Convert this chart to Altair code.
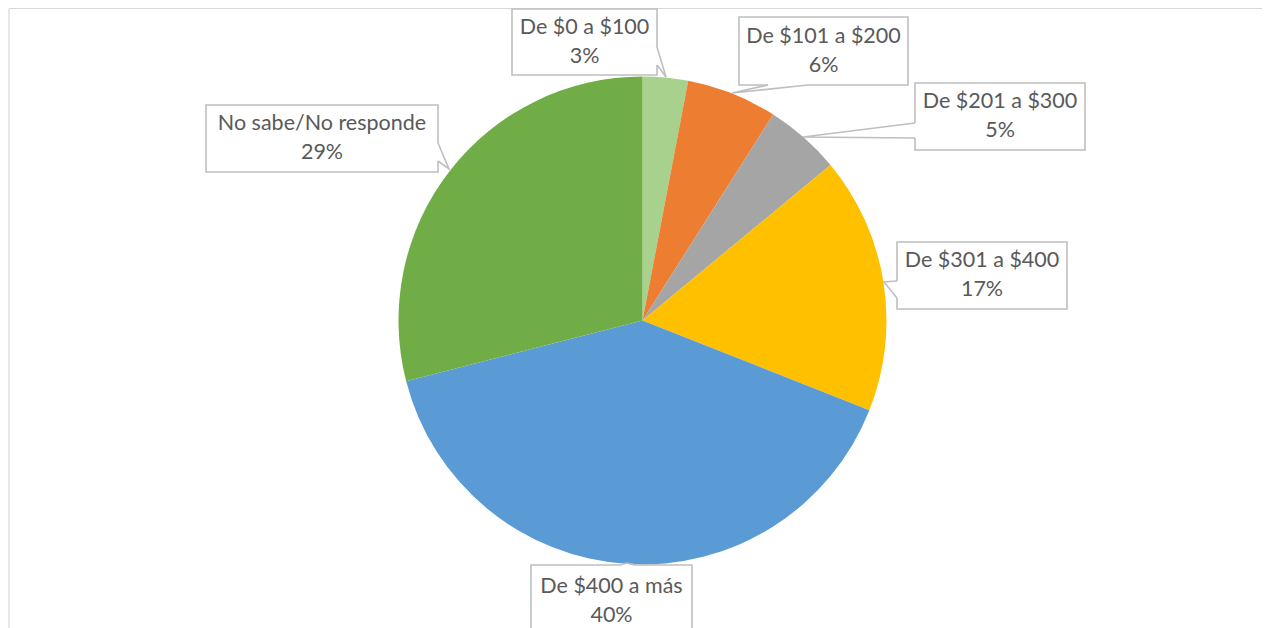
import altair as alt
import pandas as pd

# ---- data ----
categories = ["De $0 a $100", "De $101 a $200", "De $201 a $300",
              "De $301 a $400", "De $400 a más", "No sabe/No responde"]
values = [3, 6, 5, 17, 40, 29]
colors = ["#A9D18E", "#ED7D31", "#A5A5A5", "#FFC000", "#5B9BD5", "#70AD47"]

# ---- layout (page pixel coordinates) ----
W, H = 1254, 620
pie_cx, pie_cy, pie_r = 642.5, 320.5, 244
# label boxes: x1, x2, y1, y2
boxes = [
    (512, 657, 9, 75),
    (739, 908, 17, 85),
    (915, 1085, 83, 150),
    (897, 1067, 242, 309),
    (531, 692, 565, 638),
    (206, 438, 105, 172),
]
# callout pointers: attach A, tip, attach C
pointers = [
    ((657, 47), (666, 77), (657, 65)),
    ((768, 85), (732, 93), (808, 85)),
    ((915, 123), (803, 137), (915, 138)),
    ((897, 281), (884, 282), (897, 298)),
    ((620, 565), (627, 563), (634, 565)),
    ((438, 143), (449, 169), (438, 161)),
]
line_gap = 14.5
font = "Lato"
fsize = 21.5
text_color = "#595959"
box_stroke = "#BFBFBF"

xs = alt.Scale(domain=[8, 8 + W], range=[0, W], zero=False, nice=False)
ys = alt.Scale(domain=[8, 8 + H], range=[0, H], zero=False, nice=False)

pie_df = pd.DataFrame({"cat": categories, "value": values,
                       "idx": list(range(len(categories)))})

pie = alt.Chart(pie_df).mark_arc(outerRadius=pie_r, stroke=None).encode(
    theta=alt.Theta("value:Q", stack=True),
    order=alt.Order("idx:Q"),
    color=alt.Color("cat:N", scale=alt.Scale(domain=categories, range=colors), legend=None),
    x=alt.value(pie_cx - 8),
    y=alt.value(pie_cy - 8),
)

frame_df = pd.DataFrame({"x": [9, 9], "x2": [8 + W, 9], "y": [8.5, 8.5], "y2": [8.5, 8 + H]})
frame = alt.Chart(frame_df).mark_rule(color="#D9D9D9", strokeWidth=1.2).encode(
    x=alt.X("x:Q", scale=xs, axis=None), x2="x2:Q",
    y=alt.Y("y:Q", scale=ys, axis=None), y2="y2:Q",
)

box_df = pd.DataFrame({"cat": categories,
                       "x": [b[0] for b in boxes], "x2": [b[1] for b in boxes],
                       "y": [b[2] for b in boxes], "y2": [b[3] for b in boxes]})
box = alt.Chart(box_df).mark_rect(fill="white", stroke=box_stroke, strokeWidth=1.6).encode(
    x=alt.X("x:Q", scale=xs, axis=None), x2="x2:Q",
    y=alt.Y("y:Q", scale=ys, axis=None), y2="y2:Q",
)

gap_df = pd.DataFrame({"x": [p[0][0] for p in pointers], "y": [p[0][1] for p in pointers],
                       "x2": [p[2][0] for p in pointers], "y2": [p[2][1] for p in pointers]})
gap = alt.Chart(gap_df).mark_rule(color="white", strokeWidth=2.5).encode(
    x=alt.X("x:Q", scale=xs, axis=None), x2="x2:Q",
    y=alt.Y("y:Q", scale=ys, axis=None), y2="y2:Q",
)

ptr_rows = []
for i, p in enumerate(pointers):
    for j, (px, py) in enumerate(p):
        ptr_rows.append({"cat": categories[i], "pt": j, "x": px, "y": py})
ptr_df = pd.DataFrame(ptr_rows)
ptr = alt.Chart(ptr_df).mark_line(color=box_stroke, strokeWidth=1.6).encode(
    x=alt.X("x:Q", scale=xs, axis=None),
    y=alt.Y("y:Q", scale=ys, axis=None),
    detail="cat:N",
    order=alt.Order("pt:Q"),
)

txt_rows = []
for i, (c, v) in enumerate(zip(categories, values)):
    b = boxes[i]
    cx = (b[0] + b[1]) / 2
    cy = (b[2] + b[3]) / 2
    if i == 4:
        cy = 601.5
    txt_rows.append({"t": c, "x": cx, "y": cy - line_gap})
    txt_rows.append({"t": f"{v}%", "x": cx, "y": cy + line_gap})
txt_df = pd.DataFrame(txt_rows)
txt = alt.Chart(txt_df).mark_text(font=font, fontSize=fsize, color=text_color,
                                  align="center", baseline="middle").encode(
    x=alt.X("x:Q", scale=xs, axis=None),
    y=alt.Y("y:Q", scale=ys, axis=None),
    text="t:N",
)

chart = alt.layer(frame, pie, box, gap, ptr, txt).properties(
    width=W, height=H, padding=0, autosize=alt.AutoSizeParams(type="none")
).configure_view(stroke=None).resolve_scale(x="shared", y="shared")

chart.save("out.html", embed_options={"renderer": "svg", "actions": False})
